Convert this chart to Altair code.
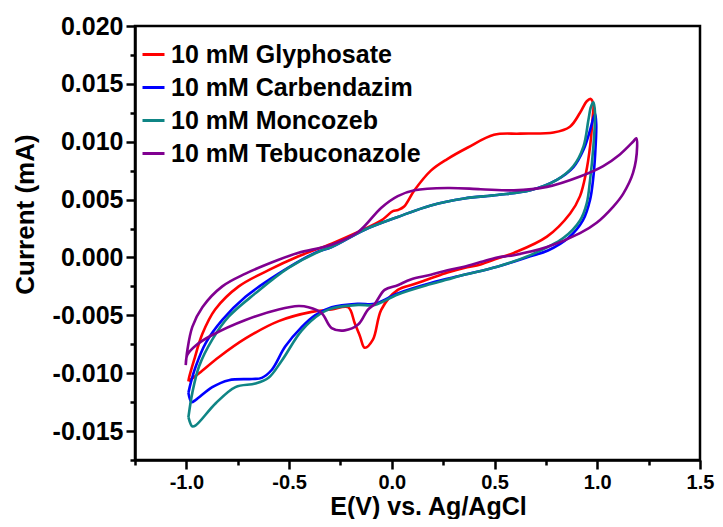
import altair as alt
import pandas as pd

names = ["10 mM Glyphosate", "10 mM Carbendazim", "10 mM Moncozeb", "10 mM Tebuconazole"]
colors = ["#ff0000", "#0000ff", "#0f8585", "#800090"]

x_ticks = [-1.0, -0.5, 0.0, 0.5, 1.0, 1.5]
x_minor = [-1.25, -0.75, -0.25, 0.25, 0.75, 1.25]
y_ticks = [-0.015, -0.010, -0.005, 0.0, 0.005, 0.010, 0.015, 0.020]
y_minor = [-0.0175, -0.0125, -0.0075, -0.0025, 0.0025, 0.0075, 0.0125, 0.0175]

gly_E = [-0.99, -0.987, -0.963, -0.922, -0.86, -0.745, -0.60, -0.454, -0.293, -0.164, -0.051, 0.005, 0.03,
         0.06, 0.11, 0.19, 0.27, 0.37, 0.497, 0.625, 0.787, 0.867, 0.916, 0.949, 0.968, 0.981, 0.978, 0.965,
         0.945, 0.916, 0.868, 0.755, 0.594, 0.513, 0.432, 0.352, 0.271, 0.19, 0.11, 0.029, -0.051, -0.092,
         -0.132, -0.155, -0.18, -0.213, -0.293, -0.39, -0.551, -0.712, -0.841, -0.938, -0.99]
gly_I = [-0.0107, -0.0104, -0.0089, -0.0066, -0.0045, -0.0025, -0.0011, 0.0001, 0.0012, 0.0022, 0.0032, 0.0040,
         0.0041, 0.0044, 0.0058, 0.0075, 0.0085, 0.0095, 0.0106, 0.0107, 0.0108, 0.0113, 0.0125, 0.0135, 0.0137,
         0.0132, 0.0122, 0.0096, 0.0073, 0.0053, 0.0038, 0.0018, 0.0004, -0.0001, -0.0006, -0.0009, -0.0013,
         -0.0018, -0.0023, -0.0028, -0.0045, -0.0071, -0.0078, -0.0068, -0.0057, -0.0043, -0.0045, -0.0047,
         -0.0055, -0.0070, -0.0086, -0.0100, -0.0107]

carb_E = [-0.99, -0.978, -0.954, -0.906, -0.825, -0.712, -0.551, -0.374, -0.293, -0.132, 0.029, 0.19, 0.352,
          0.513, 0.674, 0.803, 0.884, 0.933, 0.965, 0.982, 0.99, 0.995, 0.99, 0.98, 0.965, 0.93, 0.86, 0.76,
          0.674, 0.513, 0.352, 0.19, 0.029, -0.083, -0.164, -0.293, -0.374, -0.438, -0.519, -0.584, -0.633,
          -0.68, -0.793, -0.874, -0.954, -0.975, -0.99]
carb_I = [-0.0117, -0.0108, -0.0094, -0.0074, -0.0054, -0.0034, -0.0014, 0.0004, 0.0009, 0.0024, 0.0035, 0.0045,
          0.0051, 0.0054, 0.0058, 0.0067, 0.0078, 0.0093, 0.0110, 0.0121, 0.0124, 0.0115, 0.0090, 0.0068, 0.0050,
          0.0032, 0.0017, 0.0006, 0.0001, -0.0008, -0.0015, -0.0022, -0.0031, -0.0040, -0.0040, -0.0043,
          -0.0050, -0.0060, -0.0077, -0.0097, -0.0104, -0.0105, -0.0106, -0.0112, -0.0123, -0.0125, -0.0117]

mon_E = [-0.99, -0.971, -0.938, -0.874, -0.793, -0.664, -0.503, -0.342, -0.293, -0.132, 0.029, 0.19, 0.352,
         0.513, 0.674, 0.803, 0.884, 0.933, 0.957, 0.969, 0.981, 0.989, 0.981, 0.965, 0.949, 0.916, 0.836, 0.674,
         0.513, 0.352, 0.271, 0.19, 0.029, -0.083, -0.164, -0.293, -0.342, -0.438, -0.535, -0.6, -0.664, -0.761,
         -0.857, -0.954, -0.971, -0.99]
mon_I = [-0.0138, -0.0117, -0.0094, -0.0071, -0.0051, -0.0031, -0.0009, 0.0006, 0.0009, 0.0024, 0.0035, 0.0045,
         0.0051, 0.0054, 0.0058, 0.0067, 0.0079, 0.0096, 0.0119, 0.0130, 0.0134, 0.0125, 0.0096, 0.0067, 0.0047,
         0.0032, 0.0017, 0.0002, -0.0008, -0.0015, -0.0019, -0.0023, -0.0032, -0.0041, -0.0041, -0.0044, -0.0048,
         -0.0063, -0.0089, -0.0104, -0.0109, -0.0112, -0.0126, -0.0145, -0.0146, -0.0138]

teb_E = [-1.003, -0.995, -0.971, -0.922, -0.825, -0.712, -0.551, -0.454, -0.293, -0.164, -0.051, 0.029, 0.11,
         0.271, 0.432, 0.594, 0.755, 0.916, 1.029, 1.11, 1.174, 1.19, 1.194, 1.174, 1.126, 1.078, 0.997, 0.916,
         0.755, 0.594, 0.513, 0.432, 0.352, 0.271, 0.19, 0.092, 0.029, -0.035, -0.083, -0.116, -0.164, -0.229,
         -0.293, -0.342, -0.406, -0.454, -0.551, -0.712, -0.874, -0.954, -0.995, -1.003]
teb_I = [-0.0093, -0.0080, -0.0060, -0.0043, -0.0025, -0.0014, -0.0002, 0.0004, 0.0011, 0.0022, 0.0043, 0.0053,
         0.0058, 0.0060, 0.0059, 0.0058, 0.0061, 0.0070, 0.0079, 0.0089, 0.0100, 0.0103, 0.0096, 0.0073, 0.0055,
         0.0044, 0.0030, 0.0021, 0.0009, 0.0002, 0.0000, -0.0004, -0.0008, -0.0011, -0.0015, -0.0019, -0.0024,
         -0.0028, -0.0040, -0.0045, -0.0058, -0.0063, -0.0061, -0.0048, -0.0043, -0.0042, -0.0045, -0.0054,
         -0.0067, -0.0076, -0.0084, -0.0093]

rows = []
for name, Es, Is in zip(names, [gly_E, carb_E, mon_E, teb_E], [gly_I, carb_I, mon_I, teb_I]):
    for k, (e, i) in enumerate(zip(Es, Is)):
        rows.append({"series": name, "E": e, "I": i, "idx": k})
df = pd.DataFrame(rows)

font = "Liberation Sans"
xscale = alt.Scale(domain=[-1.25, 1.5], nice=False, zero=False)
yscale = alt.Scale(domain=[-0.0175, 0.020], nice=False, zero=False)

x_major = alt.Axis(
    orient="bottom", values=x_ticks, grid=False,
    labelExpr="(datum.value < 0 ? '-' : '') + format(abs(datum.value), '.1f')",
    title="E(V) vs. Ag/AgCl", domainColor="black", domainWidth=2.5,
    tickColor="black", tickWidth=2.5, tickSize=9,
    labelFont=font, labelFontSize=20, labelFontWeight="bold", labelColor="black",
    labelPadding=3, labelFlush=False, labelOverlap=False,
    titleFont=font, titleFontSize=25, titleFontWeight="bold", titleColor="black",
    titleX=293, titleY=54, titleBaseline="alphabetic", titleAlign="center",
)
y_major = alt.Axis(
    orient="left", values=y_ticks, grid=False,
    labelExpr="(datum.value < 0 ? '-' : '') + format(abs(datum.value), '.3f')",
    title="Current (mA)", domainColor="black", domainWidth=2.5,
    tickColor="black", tickWidth=2.5, tickSize=9,
    labelFont=font, labelFontSize=25, labelFontWeight="bold", labelColor="black",
    labelPadding=3, labelOverlap=False,
    titleFont=font, titleFontSize=26, titleFontWeight="bold", titleColor="black",
    titleX=-110, titleY=188, titleAngle=270, titleAlign="center", titleBaseline="middle",
)
x_min_axis = alt.Axis(orient="bottom", values=x_minor, labels=False, domain=False, grid=False,
                      tickColor="black", tickWidth=2.5, tickSize=5, title=None)
y_min_axis = alt.Axis(orient="left", values=y_minor, labels=False, domain=False, grid=False,
                      tickColor="black", tickWidth=2.5, tickSize=5, title=None)

lines = alt.Chart(df).mark_line(strokeWidth=2.6, interpolate="catmull-rom").encode(
    x=alt.X("E:Q", scale=xscale, axis=x_major),
    y=alt.Y("I:Q", scale=yscale, axis=y_major),
    color=alt.Color("series:N", scale=alt.Scale(domain=names, range=colors),
                    legend=alt.Legend(title=None, orient="none", legendX=6, legendY=16,
                                      symbolType="stroke", symbolSize=484, symbolStrokeWidth=3,
                                      labelFont=font, labelFontSize=25, labelFontWeight="bold",
                                      labelColor="black", labelLimit=0, rowPadding=7, labelOffset=5,
                                      padding=0)),
    order=alt.Order("idx:Q"),
)

minor = alt.Chart(df).mark_point(opacity=0).encode(
    x=alt.X("E:Q", scale=xscale, axis=x_min_axis),
    y=alt.Y("I:Q", scale=yscale, axis=y_min_axis),
)

chart = alt.layer(lines, minor).resolve_axis(x="independent", y="independent").properties(
    width=565, height=434,
    padding={"left": 127, "top": 18, "right": 15, "bottom": 59},
    autosize=alt.AutoSizeParams(type="none"),
).configure_view(stroke="black", strokeWidth=2.5)

chart.save("out.html", embed_options={"renderer": "svg", "actions": False})
